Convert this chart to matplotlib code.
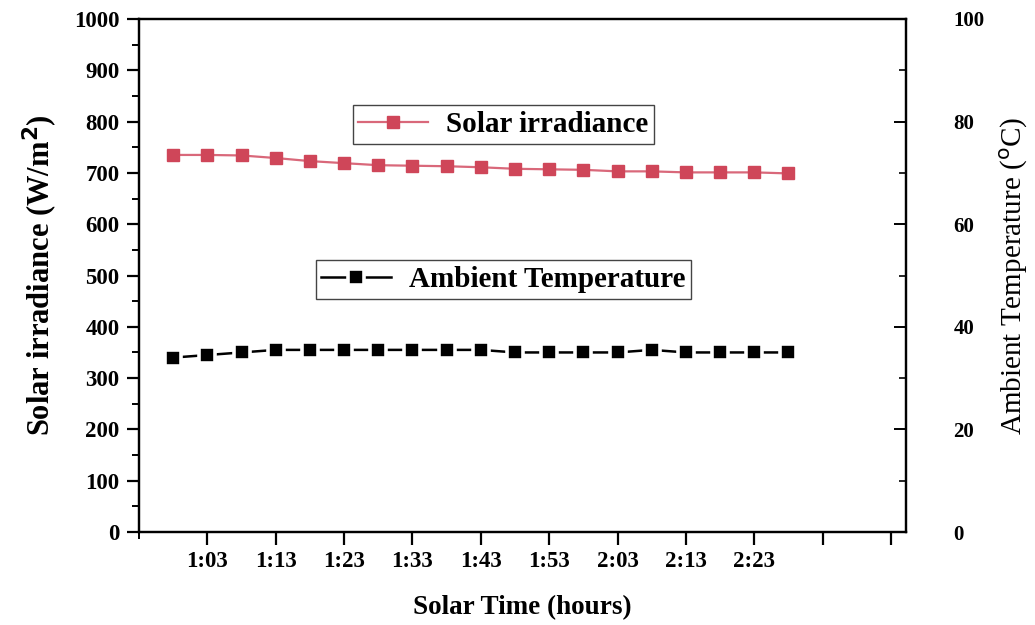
import matplotlib
matplotlib.use("Agg")
import matplotlib.pyplot as plt
from matplotlib.ticker import FixedLocator, MultipleLocator

# Measurement log (solar time h:mm)
solar_time = ["0:58", "1:03", "1:08", "1:13", "1:18", "1:23", "1:28", "1:33", "1:38", "1:43",
              "1:48", "1:53", "1:58", "2:03", "2:08", "2:13", "2:18", "2:23", "2:28"]
irradiance = [735, 735, 734, 729, 723, 719, 715, 714, 713, 711,
              708, 707, 706, 703, 703, 701, 701, 701, 699]
ambient_temp = [34.0, 34.5, 35.0, 35.5, 35.5, 35.5, 35.5, 35.5, 35.5, 35.5,
                35.0, 35.0, 35.0, 35.0, 35.5, 35.0, 35.0, 35.0, 35.0]

x_tick_labels = ["1:03", "1:13", "1:23", "1:33", "1:43", "1:53", "2:03", "2:13", "2:23", "", ""]


def to_minutes(s):
    h, m = s.split(":")
    return int(h) * 60 + int(m)


t = [to_minutes(s) for s in solar_time]
major_x = [to_minutes("1:03") + 10 * i for i in range(len(x_tick_labels))]
minor_x = [to_minutes("0:53") + 10 * i for i in range(len(x_tick_labels) + 1)]

plt.rcParams["font.family"] = ["Liberation Serif", "DejaVu Serif"]

fig = plt.figure(figsize=(10.35, 6.25), dpi=100)
ax = fig.add_axes([0.1343, 0.1488, 0.7411, 0.8208])
ax2 = ax.twinx()

red = "#cf4659"
ax.plot(t, irradiance, color="#d9687a", lw=1.6, marker="s", ms=9,
        mfc=red, mec=red, label="Solar irradiance", zorder=3)
ax2.plot(t, ambient_temp, color="black", lw=1.8, marker="s", ms=11.5,
         mfc="black", mec="white", mew=2.6, label="Ambient Temperature", zorder=3)

ax.set_xlim(53, 165.2)
ax.set_ylim(0, 1000)
ax2.set_ylim(0, 100)

ax.xaxis.set_major_locator(FixedLocator(major_x))
ax.set_xticklabels(x_tick_labels)
ax.xaxis.set_minor_locator(FixedLocator(minor_x))
ax.yaxis.set_major_locator(MultipleLocator(100))
ax.yaxis.set_minor_locator(MultipleLocator(50))
ax2.yaxis.set_major_locator(MultipleLocator(20))
ax2.yaxis.set_minor_locator(MultipleLocator(10))

ax.tick_params(axis="both", which="major", direction="out", length=9, width=1.6,
               labelsize=16.5, pad=5, top=False, right=False)
ax.tick_params(axis="both", which="minor", direction="out", length=5, width=1.4,
               top=False, right=False)
ax.tick_params(axis="x", which="major", pad=5)
ax2.tick_params(axis="y", which="major", direction="in", length=9, width=1.4,
                labelsize=15, pad=34)
ax2.tick_params(axis="y", which="minor", direction="in", length=5, width=1.2)

for lab in ax.get_xticklabels() + ax.get_yticklabels() + ax2.get_yticklabels():
    lab.set_fontweight("bold")

for a in (ax, ax2):
    for side, sp in a.spines.items():
        sp.set_linewidth(1.6)

ax.set_xlabel("Solar Time (hours)", fontsize=19.5, fontweight="bold", labelpad=16)
ax.set_ylabel("Solar irradiance (W/m$^\\mathbf{2}$)", fontsize=22, fontweight="bold", labelpad=10)
ax2.set_ylabel("Ambient Temperature ($^\\mathrm{o}$C)", fontsize=21, labelpad=10)

leg_kw = dict(loc="center", frameon=True, fancybox=False, framealpha=1,
              edgecolor="#444444", borderpad=0.2, handlelength=2.4, handletextpad=0.6,
              borderaxespad=0,
              prop={"family": "Liberation Serif", "weight": "bold", "size": 21})
leg1 = ax.legend(bbox_to_anchor=(0.475, 0.794), **leg_kw)
leg1.get_frame().set_linewidth(1.0)
leg2 = ax2.legend(bbox_to_anchor=(0.475, 0.492), **leg_kw)
leg2.get_frame().set_linewidth(1.0)

fig.savefig("out.png", dpi=100)
